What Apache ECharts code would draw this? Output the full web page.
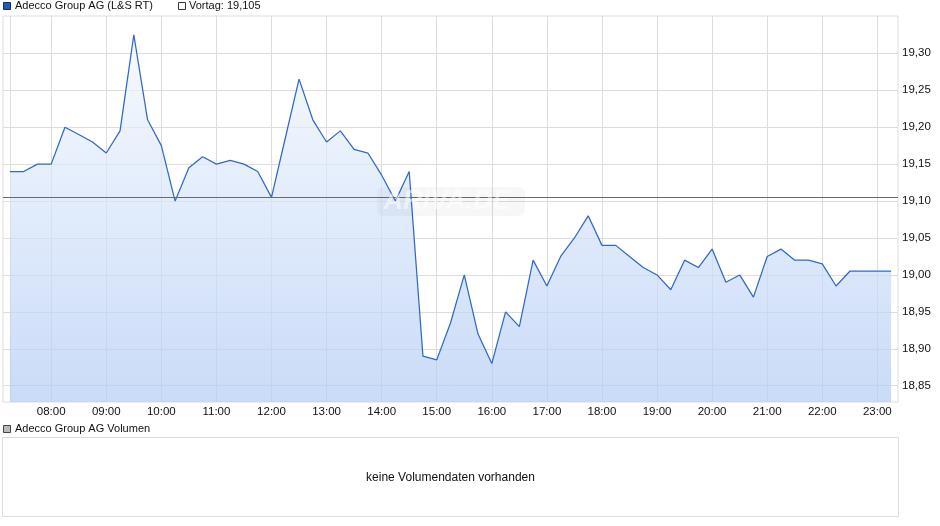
<!DOCTYPE html>
<html>
<head>
<meta charset="utf-8">
<script src="https://cdn.jsdelivr.net/npm/echarts@6/dist/echarts.min.js"></script>
<style>
html,body{margin:0;padding:0;background:#fff;}
#chart{width:940px;height:526px;}
</style>
</head>
<body>
<div id="chart"></div>
<script>
// ---- data ----
const times = [
  "07:15","07:30","07:45","08:00","08:15","08:30","08:45","09:00","09:15","09:30",
  "09:45","10:00","10:15","10:30","10:45","11:00","11:15","11:30","11:45","12:00",
  "12:15","12:30","12:45","13:00","13:15","13:30","13:45","14:00","14:15","14:30",
  "14:45","15:00","15:15","15:30","15:45","16:00","16:15","16:30","16:45","17:00",
  "17:15","17:30","17:45","18:00","18:15","18:30","18:45","19:00","19:15","19:30",
  "19:45","20:00","20:15","20:30","20:45","21:00","21:15","21:30","21:45","22:00",
  "22:15","22:30","22:45","23:00","23:15"
];
const prices = [
  19.14, 19.14, 19.15, 19.15, 19.20, 19.19, 19.18, 19.165, 19.195, 19.325,
  19.21, 19.175, 19.10, 19.145, 19.16, 19.15, 19.155, 19.15, 19.14, 19.105,
  19.185, 19.265, 19.21, 19.18, 19.195, 19.17, 19.165, 19.135, 19.10, 19.14,
  18.89, 18.885, 18.935, 19.00, 18.92, 18.88, 18.95, 18.93, 19.02, 18.985,
  19.025, 19.05, 19.08, 19.04, 19.04, 19.025, 19.01, 19.00, 18.98, 19.02,
  19.01, 19.035, 18.99, 19.00, 18.97, 19.025, 19.035, 19.02, 19.02, 19.015,
  18.985, 19.005, 19.005, 19.005, 19.005
];
const prevClose = 19.105;
const hourLabels = ["08:00","09:00","10:00","11:00","12:00","13:00","14:00","15:00",
  "16:00","17:00","18:00","19:00","20:00","21:00","22:00","23:00"];
const xGridExtra = ["07:15"];
const yTicks = [18.85, 18.90, 18.95, 19.00, 19.05, 19.10, 19.15, 19.20, 19.25, 19.30];
const seriesName = "Adecco Group AG (L&S RT)";
const volumeTitle = "Adecco Group AG Volumen";
const noVolumeText = "keine Volumendaten vorhanden";

// ---- helpers ----
function toMin(t){ const p = t.split(":"); return (+p[0])*60 + (+p[1]); }
function fmtTime(m){ const h = Math.floor(m/60), mm = Math.round(m%60);
  return (h<10?"0":"")+h+":"+(mm<10?"0":"")+mm; }
function fmtNum(v, d){ return v.toFixed(d).replace(".", ","); }

const FONT = "Liberation Sans";
const chart = echarts.init(document.getElementById("chart"), null, {renderer: "canvas"});

const option = {
  animation: false,
  backgroundColor: "#fff",
  grid: { left: 3, right: 42, top: 16, bottom: 124, show: true, borderColor: "#dddddd", borderWidth: 1, containLabel: false },
  xAxis: {
    type: "value",
    min: 427.5, max: 1402.5,
    axisLine: { show: false },
    axisTick: { show: false, customValues: xGridExtra.concat(hourLabels).map(toMin) },
    axisLabel: { customValues: hourLabels.map(toMin), formatter: v => fmtTime(v),
      color: "#111", fontFamily: FONT, fontSize: 11.5, margin: 4 },
    splitLine: { show: true, lineStyle: { color: "#dddddd", width: 1 } }
  },
  yAxis: {
    type: "value",
    position: "right",
    min: 18.828, max: 19.3505,
    axisLine: { show: false },
    axisTick: { show: false, customValues: yTicks },
    axisLabel: { customValues: yTicks, formatter: v => fmtNum(v, 2),
      color: "#111", fontFamily: FONT, fontSize: 11.5, margin: 4 },
    splitLine: { show: true, lineStyle: { color: "#dddddd", width: 1 } }
  },
  series: [{
    name: seriesName,
    type: "line",
    data: times.map((t, i) => [toMin(t), prices[i]]),
    symbol: "none",
    lineStyle: { color: "#3068c8", width: 1.25 },
    areaStyle: {
      color: new echarts.graphic.LinearGradient(0, 0, 0, 1, [
        { offset: 0, color: "#f3f8fe" },
        { offset: 1, color: "#b3ccf4" }
      ])
    },
    markLine: {
      silent: true,
      symbol: "none",
      precision: 4,
      label: { show: false },
      lineStyle: { color: "#6a6a6a", type: "solid", width: 1 },
      data: [{ yAxis: prevClose }]
    }
  }],
  graphic: [
    // top legend
    { type: "rect", shape: { x: 3.5, y: 2.5, width: 7, height: 7 },
      style: { fill: "#2057c2", stroke: "#1a2a55", lineWidth: 1 } },
    { type: "text", x: 15, y: 6, style: { text: seriesName, fill: "#111", font: "11px " + FONT, textVerticalAlign: "middle" } },
    { type: "rect", shape: { x: 178.5, y: 2.5, width: 7, height: 7 },
      style: { fill: "#fff", stroke: "#333", lineWidth: 1 } },
    { type: "text", x: 189, y: 6, style: { text: "Vortag: " + fmtNum(prevClose, 3), fill: "#111", font: "11px " + FONT, textVerticalAlign: "middle" } },
    // watermark
    { type: "rect", z: 100, shape: { x: 377, y: 187, width: 148, height: 29, r: 6 },
      style: { fill: "rgba(0,0,0,0.03)" } },
    { type: "text", z: 101, x: 447, y: 202, style: { text: "ARIVA.DE", fill: "rgba(255,255,255,0.5)",
      font: "italic bold 27px " + FONT, textAlign: "center", textVerticalAlign: "middle" } },
    // volume panel
    { type: "rect", shape: { x: 3.5, y: 425.5, width: 7, height: 7 },
      style: { fill: "#bbbbbb", stroke: "#444", lineWidth: 1 } },
    { type: "text", x: 15, y: 429, style: { text: volumeTitle, fill: "#111", font: "11px " + FONT, textVerticalAlign: "middle" } },
    { type: "rect", shape: { x: 2.5, y: 437.5, width: 896, height: 79 },
      style: { fill: "#fff", stroke: "#dddddd", lineWidth: 1 } },
    { type: "text", x: 450.5, y: 477.5, style: { text: noVolumeText, fill: "#111", font: "12px " + FONT, textAlign: "center", textVerticalAlign: "middle" } }
  ]
};
chart.setOption(option);
</script>
</body>
</html>
